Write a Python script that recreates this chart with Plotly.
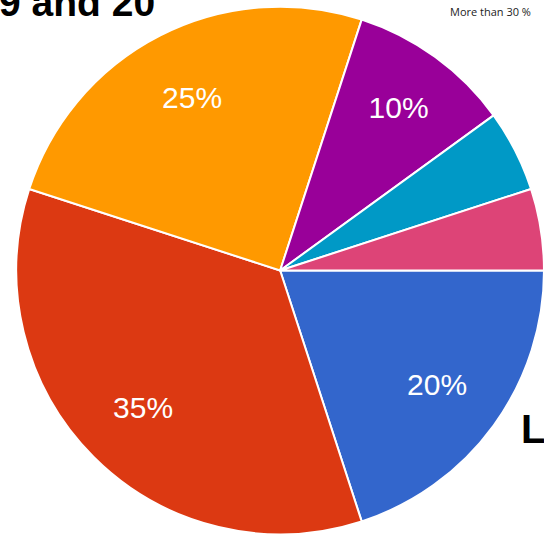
import plotly.graph_objects as go

# Share of respondents by age group
groups = ["Less than 19", "Between 19 and 20", "Between 21 and 25",
          "Between 26 and 30", "Between 30 and 35", "More than 30 %"]
shares = [20, 35, 25, 10, 5, 5]
slice_labels = ["20%", "35%", "25%", "10%", "", ""]
colors = ["#3366CC", "#DC3912", "#FF9900", "#990099", "#0099C6", "#DD4477"]

pie_domain = dict(x=[0.03, 1.0], y=[0.0, 1.0])
common = dict(
    labels=groups,
    values=shares,
    sort=False,
    direction="clockwise",
    rotation=90,
    domain=pie_domain,
    showlegend=False,
)

fig = go.Figure()

# Filled slices
fig.add_trace(
    go.Pie(
        **common,
        textinfo="none",
        marker=dict(colors=colors, line=dict(color="white", width=2)),
    )
)

# Transparent ring carrying the percentage labels, so they sit in the outer part
fig.add_trace(
    go.Pie(
        **common,
        hole=0.47,
        text=slice_labels,
        textinfo="text",
        textposition="inside",
        insidetextorientation="horizontal",
        insidetextfont=dict(color="white", size=30, family="Liberation Sans, Arial"),
        marker=dict(colors=["rgba(0,0,0,0)"] * len(shares), line=dict(width=0)),
        hoverinfo="skip",
    )
)

fig.update_layout(
    width=544,
    height=541,
    margin=dict(l=0, r=0, t=0, b=0),
    paper_bgcolor="white",
    plot_bgcolor="white",
    annotations=[
        dict(
            text="<b>9 and 20</b>", xref="paper", yref="paper",
            x=157 / 544, y=1 - 17 / 541, xanchor="right", yanchor="bottom",
            yshift=-9, showarrow=False,
            font=dict(size=39, color="black", family="Liberation Sans, Arial"),
        ),
        dict(
            text="More than 30 %", xref="paper", yref="paper",
            x=490 / 544, y=1 - 11 / 541, xanchor="center", yanchor="middle",
            showarrow=False,
            font=dict(size=11, color="#222222", family="Open Sans, Liberation Sans"),
        ),
        dict(
            text="<b>Lo</b>", xref="paper", yref="paper",
            x=519 / 544, y=1 - 444 / 541, xanchor="left", yanchor="bottom",
            yshift=-9, showarrow=False,
            font=dict(size=40, color="black", family="Liberation Sans, Arial"),
        ),
    ],
)

fig.write_html("out.html")
